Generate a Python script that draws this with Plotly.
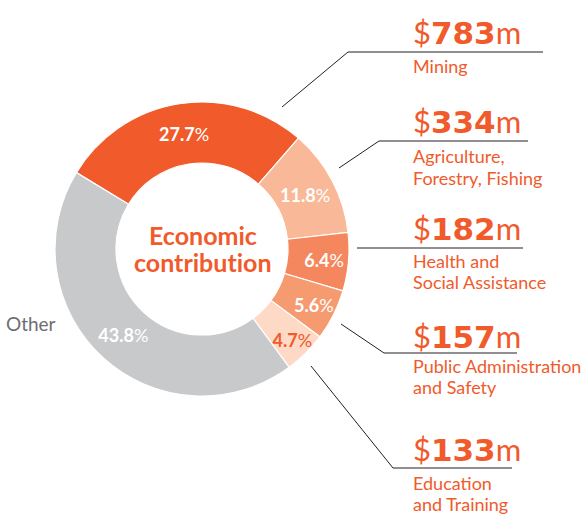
import plotly.graph_objects as go

# ---- data ----
sectors = ["Mining", "Agriculture, Forestry, Fishing", "Health and Social Assistance",
           "Public Administration and Safety", "Education and Training", "Other"]
shares = [27.7, 11.8, 6.4, 5.6, 4.7, 43.8]          # % of economic contribution
amounts_m = [783, 334, 182, 157, 133]                # $ millions (named sectors)
callout_lines = [["Mining"], ["Agriculture,", "Forestry, Fishing"], ["Health and", "Social Assistance"],
                 ["Public Administration", "and Safety"], ["Education", "and Training"]]
center_lines = ["Economic", "contribution"]
other_label = "Other"

# ---- style ----
ORANGE = "#F15A2B"
slice_colors = ["#F15A2B", "#F9B897", "#F5875E", "#F69A70", "#FDD9C6", "#C8C9CB"]
pct_colors = ["white", "white", "white", "white", ORANGE, "white"]
FONT = "Lato"
W, H = 586, 516


def fx(x):
    return x / W


def fy(y):
    return 1 - y / H


cx, cy, R = 202, 249, 147

fig = go.Figure(go.Pie(
    labels=sectors, values=shares, sort=False, direction="clockwise", rotation=301.3,
    hole=0.585,
    marker=dict(colors=slice_colors, line=dict(color="white", width=1.2)),
    texttemplate="<b>%{value:.1f}</b>%", textposition="inside",
    insidetextorientation="horizontal",
    textfont=dict(color=pct_colors, size=18, family=FONT),
    hoverinfo="none", showlegend=False,
    domain=dict(x=[fx(cx - R), fx(cx + R)], y=[fy(cy + R), fy(cy - R)]),
))

# callout geometry (pixels): value baseline, underline y, underline x0, x1, leader start, label baselines
callouts = [
    dict(base=43, ly=52, x0=348, x1=543, lead=(282, 107), lb=[73]),
    dict(base=133, ly=141, x0=379, x1=528, lead=(339, 168), lb=[163, 185]),
    dict(base=239, ly=248, x0=357, x1=523, lead=None, lb=[268, 289]),
    dict(base=347, ly=353, x0=384, x1=517, lead=(341, 324), lb=[373, 394]),
    dict(base=460, ly=468, x0=393, x1=512, lead=(311, 366), lb=[490, 511]),
]
TX = 411
LS = "<span style='font-family:Lato'>"
annotations = []
shapes = []
for amt, lines, c in zip(amounts_m, callout_lines, callouts):
    annotations.append(dict(
        x=fx(TX), y=fy(c["base"] - 11.5), xref="paper", yref="paper",
        xanchor="left", yanchor="middle", showarrow=False,
        text=f"{LS}$</span><b>{amt}</b>{LS}m</span>",
        font=dict(size=31, color=ORANGE, family="DejaVu Sans"),
    ))
    for line, b in zip(lines, c["lb"]):
        annotations.append(dict(
            x=fx(TX), y=fy(b - 7), xref="paper", yref="paper",
            xanchor="left", yanchor="middle", showarrow=False, align="left",
            text=line, font=dict(size=18, color=ORANGE, family=FONT),
        ))
    shapes.append(dict(type="line", xref="paper", yref="paper",
                       x0=fx(c["x0"]), y0=fy(c["ly"]), x1=fx(c["x1"]), y1=fy(c["ly"]),
                       line=dict(color="#231F20", width=1)))
    if c["lead"]:
        shapes.append(dict(type="line", xref="paper", yref="paper",
                           x0=fx(c["lead"][0]), y0=fy(c["lead"][1]),
                           x1=fx(c["x0"]), y1=fy(c["ly"]),
                           line=dict(color="#231F20", width=1)))

annotations.append(dict(
    x=fx(58), y=fy(331 - 7.4), xref="paper", yref="paper", xanchor="right", yanchor="middle",
    showarrow=False, text=other_label, font=dict(size=19, color="#6D6E71", family=FONT)))
for line, b in zip(center_lines, [245, 271.5]):
    annotations.append(dict(
        x=fx(cx + 1), y=fy(b - 9.7), xref="paper", yref="paper", xanchor="center", yanchor="middle",
        showarrow=False,
        text=f"<span style='font-variant-ligatures:none'><b>{line}</b></span>",
        font=dict(size=25, color=ORANGE, family=FONT)))

fig.update_layout(
    width=W, height=H, margin=dict(l=0, r=0, t=0, b=0),
    paper_bgcolor="white", plot_bgcolor="white",
    annotations=annotations, shapes=shapes,
    uniformtext=dict(minsize=18, mode="show"),
)
fig.write_html("out.html", config={"displayModeBar": False},
               post_script="document.body.style.margin='0';document.body.style.padding='0';")
